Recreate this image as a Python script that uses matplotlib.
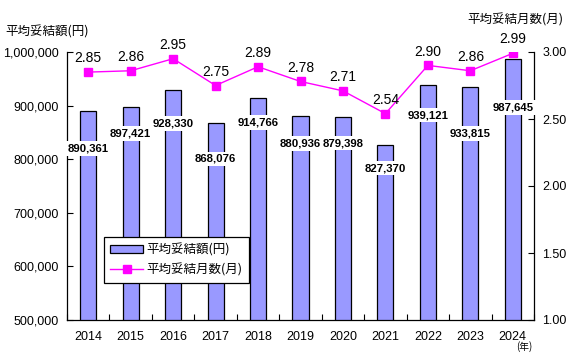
import matplotlib
matplotlib.use("Agg")
import matplotlib.pyplot as plt
import numpy as np
from matplotlib.ticker import FuncFormatter, FixedLocator
from matplotlib import font_manager

plt.rcParams['font.family'] = ['Liberation Sans', 'Noto Sans CJK JP', 'DejaVu Sans']

years = ['2014', '2015', '2016', '2017', '2018', '2019', '2020', '2021', '2022', '2023', '2024']
amounts = [890361, 897421, 928330, 868076, 914766, 880936, 879398, 827370, 939121, 933815, 987645]
months = [2.85, 2.86, 2.95, 2.75, 2.89, 2.78, 2.71, 2.54, 2.90, 2.86, 2.99]

# layout: label offset below bar top (points)
label_offsets = [27, 19, 24, 26, 18, 20, 19, 17, 22, 33, 35]

bar_color = '#9999ff'
line_color = '#ff00ff'

label_font = font_manager.FontProperties(family='Liberation Sans', weight='bold', size=8.2)

fig = plt.figure(figsize=(5.68, 3.6), dpi=100)
ax = fig.add_axes([67/568, 40/360, (534-67)/568, (320-52)/360])
x = np.arange(len(years))

ax.bar(x, amounts, width=0.38, color=bar_color, edgecolor='black', linewidth=0.9,
       label='平均妥結額(円)', zorder=2)
ax.set_ylim(500000, 1000000)
ax.set_xlim(-0.5, len(years) - 0.5)
ax.yaxis.set_major_locator(FixedLocator(np.arange(500000, 1000001, 100000)))
ax.yaxis.set_major_formatter(FuncFormatter(lambda v, p: f'{int(v):,}'))
ax.set_xticks(x)
ax.set_xticklabels(years)
ax.set_xticks(np.arange(-0.5, len(years) + 0.5, 1.0), minor=True)
ax.tick_params(axis='x', which='major', length=0, labelsize=9, pad=8)
ax.tick_params(axis='x', which='minor', direction='in', length=4, width=0.8)
ax.tick_params(axis='y', direction='in', length=4, width=0.8, labelsize=9, pad=6)
ax.spines['top'].set_visible(False)
ax.spines['right'].set_visible(False)
for s in ['left', 'bottom']:
    ax.spines[s].set_linewidth(0.9)

ax2 = ax.twinx()
ax2.set_position(ax.get_position())
ax2.plot(x, months, color=line_color, linewidth=1.0, marker='s', markersize=5.5,
         markerfacecolor=line_color, markeredgecolor=line_color, label='平均妥結月数(月)', zorder=3)
ax2.set_ylim(1.0, 3.0)
ax2.yaxis.set_major_locator(FixedLocator([1.0, 1.5, 2.0, 2.5, 3.0]))
ax2.yaxis.set_major_formatter(FuncFormatter(lambda v, p: f'{v:.2f}'))
ax2.tick_params(axis='y', direction='in', length=4, width=0.8, labelsize=9, pad=6)
for s in ['top', 'left', 'bottom']:
    ax2.spines[s].set_visible(False)
ax2.spines['right'].set_linewidth(0.9)

for xi, v, off in zip(x, amounts, label_offsets):
    ax2.annotate(f'{v:,}', xy=(xi, v), xycoords=ax.transData, xytext=(0, -off),
                 textcoords='offset points', ha='center', va='center',
                 fontproperties=label_font,
                 bbox=dict(boxstyle='square,pad=0.2', fc='white', ec='none'), zorder=5)

for xi, m in zip(x, months):
    ax2.annotate(f'{m:.2f}', xy=(xi, m), xytext=(0, 10), textcoords='offset points',
                 ha='center', va='center', fontsize=10)

fig.text(5/568, 1 - 32/360, '平均妥結額(円)', fontsize=9, ha='left', va='center',
         family=['Noto Sans CJK JP'])
fig.text(563/568, 1 - 20/360, '平均妥結月数(月)', fontsize=9, ha='right', va='center',
         family=['Noto Sans CJK JP'])
fig.text(524/568, 1 - 347/360, '(年)', fontsize=7, ha='center', va='center',
         family=['Noto Sans CJK JP'])

h1, l1 = ax.get_legend_handles_labels()
h2, l2 = ax2.get_legend_handles_labels()
leg = fig.legend(h1 + h2, l1 + l2, loc='upper left',
                 bbox_to_anchor=(104/568, 1 - 237/360), borderaxespad=0, fancybox=False,
                 edgecolor='black', framealpha=1, handlelength=2.6, handleheight=0.5,
                 borderpad=0.5, labelspacing=0.55, handletextpad=0.3,
                 prop={'family': ['Noto Sans CJK JP'], 'size': 9})
leg.get_frame().set_linewidth(0.9)

fig.savefig('out.png', dpi=100)
